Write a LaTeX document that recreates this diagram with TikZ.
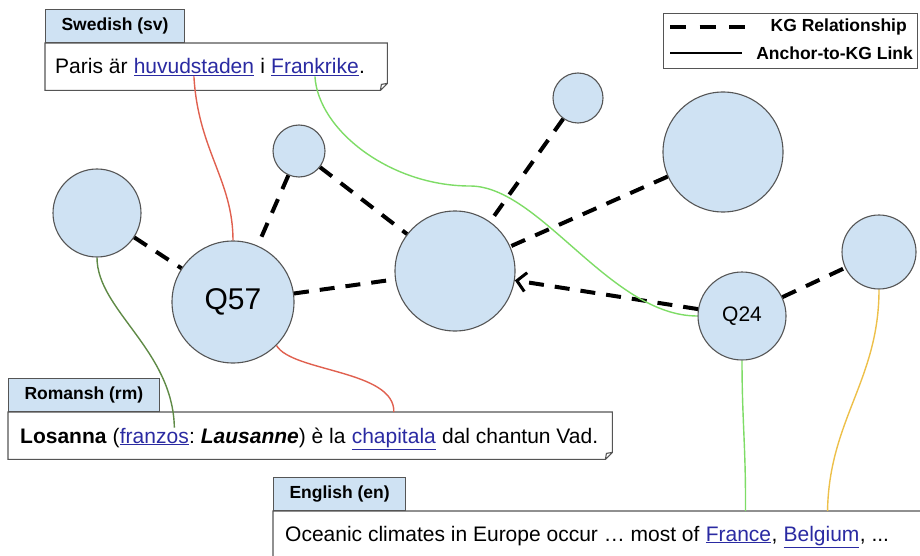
\documentclass[tikz,border=0pt]{standalone}
\usepackage{fontspec}
\setmainfont{Liberation Sans}
\usepackage{tikz}
\usetikzlibrary{arrows.meta,positioning,calc}
\definecolor{kb}{HTML}{CFE2F3}
\definecolor{kd}{HTML}{555555}
\definecolor{lk}{HTML}{2A2AA2}
\definecolor{lr}{HTML}{E0604F}
\definecolor{lg}{HTML}{7EDC66}
\definecolor{lo}{HTML}{5F8A46}
\definecolor{ly}{HTML}{EDC04A}
\newcommand{\lnk}[1]{\textcolor{lk}{\underline{#1}}}
\begin{document}
\begin{tikzpicture}[x=1pt,y=-1pt,
  kg/.style={circle,draw=kd,fill=kb,line width=1.1pt,inner sep=0pt},
  kgrel/.style={line width=4pt,dash pattern=on 15pt off 11pt},
  anc/.style={line width=1.4pt},
  tab/.style={draw=kd,fill=kb,line width=1.1pt,minimum height=33pt,inner xsep=16pt,font=\fontsize{17.5}{18}\selectfont\bfseries},
  note/.style={fill=white,minimum height=47pt,anchor=north west,inner sep=0pt},
  notebox/.style={draw=kd,line width=1.1pt},
  seg/.style={inner sep=0pt,anchor=base west,font=\fontsize{21}{24}\selectfont},
  legtxt/.style={font=\fontsize{17.5}{18}\selectfont\bfseries,anchor=east,inner sep=0pt}]
\useasboundingbox (0,0) rectangle (920,556);
% knowledge graph
\node[kg,minimum size=88pt](lone)at(97,213){};
\node[kg,minimum size=122pt,font=\fontsize{30}{30}\selectfont](q57)at(233,302){Q57};
\node[kg,minimum size=52pt](tiny)at(299,151){};
\node[kg,minimum size=120pt](hub)at(455,271){};
\node[kg,minimum size=50pt](peak)at(578,98){};
\node[kg,minimum size=120pt](big)at(723,152){};
\node[kg,minimum size=88pt,font=\fontsize{21}{21}\selectfont](q24)at(742,316){Q24};
\node[kg,minimum size=74pt](rim)at(879,252){};
\foreach \a/\b in {lone/q57,tiny/q57,tiny/hub,q57/hub,peak/hub,big/hub,q24/rim}
  \draw[kgrel](\a)--(\b);
\draw[kgrel,-{Straight Barb[length=9pt,width=19pt,line width=3pt]}](q24)--(hub);
% sentences
\node[note,minimum width=342pt](sv)at(45,43){};
\node[tab,above right=0pt and 0pt of sv.north west](svtab){Swedish (sv)};
\node[note,minimum width=604pt](rm)at(8,412){};
\node[tab,above right=0pt and 0pt of rm.north west](rmtab){Romansh (rm)};
\node[note,minimum width=660pt,minimum height=60pt](en)at(273,511){};
\node[tab,above right=0pt and 0pt of en.north west](entab){English (en)};
\foreach \b in {sv,rm,en}
  \draw[notebox](\b.north west)--(\b.north east)--([yshift=7pt]\b.south east)--([xshift=-7pt]\b.south east)--(\b.south west)--cycle
    ([xshift=-7pt]\b.south east)--([shift={(-6pt,6pt)}]\b.south east)--([yshift=7pt]\b.south east);
\node[seg](sv1)at($(sv.north west)+(10,31)$){Paris är~\null};
\node[seg](huvud)at(sv1.base east){\lnk{huvudstaden}};
\node[seg](sv2)at(huvud.base east){~i~\null};
\node[seg](frank)at(sv2.base east){\lnk{Frankrike}};
\node[seg](sv3)at(frank.base east){.};
\node[seg](rm1)at($(rm.north west)+(12,31)$){\textbf{Losanna}~(};
\node[seg](franz)at(rm1.base east){\lnk{franzos}};
\node[seg](rm2)at(franz.base east){:~\textbf{\textit{Lausanne}})~è~la~\null};
\node[seg](chap)at(rm2.base east){\lnk{chapitala}};
\node[seg](rm3)at(chap.base east){~dal chantun Vad.};
\node[seg](en1)at($(en.north west)+(12,30)$){Oceanic climates in Europe occur … most of~\null};
\node[seg](fra)at(en1.base east){\lnk{France}};
\node[seg](en2)at(fra.base east){,~\null};
\node[seg](bel)at(en2.base east){\lnk{Belgium}};
\node[seg](en3)at(bel.base east){,~...};
% anchor links
\draw[anc,lr](huvud.south)..controls(198,150)and(233,180)..(q57.north);
\draw[anc,lg](frank.south)..controls(318,130)and(390,186)..(470,186)..controls(540,186)and(610,316)..(q24.west);
\draw[anc,lo](lone.south)..controls(97,310)and(173,350)..([xshift=20pt]franz.north);
\draw[anc,lr](q57.-45)..controls(292,372)and(395,370)..(chap.north|-rm.north);
\draw[anc,lg](q24.south)..controls(742,420)and(746,450)..([xshift=7pt]fra.north|-en.north);
\draw[anc,ly](rim.south)..controls(879,380)and(829,420)..([xshift=6pt]bel.north|-en.north);
% legend
\node[draw=kd,line width=1pt,minimum width=254pt,minimum height=55pt,anchor=north west,inner sep=0pt](leg)at(663,13){};
\node[legtxt](lkg)at(907,27){KG Relationship};
\node[legtxt](lanc)at(913,53){Anchor-to-KG Link};
\coordinate(lkg0)at(670,27);
\coordinate(lanc0)at(670,53);
\draw[line width=4pt,dash pattern=on 16pt off 13.5pt](lkg0)--++(75,0);
\draw[line width=1.2pt](lanc0)--++(72,0);
\end{tikzpicture}
\end{document}
